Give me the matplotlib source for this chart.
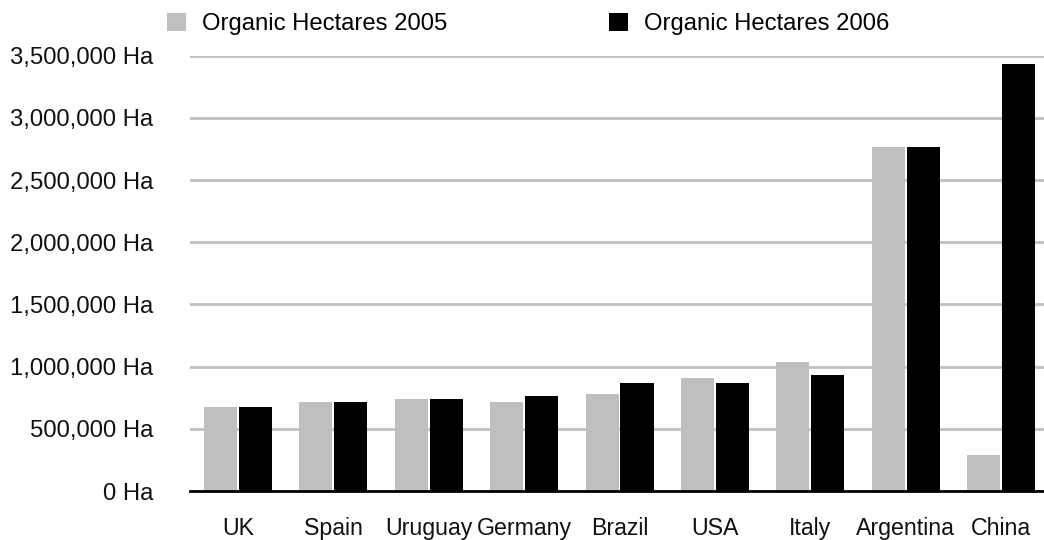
import matplotlib.pyplot as plt
import numpy as np
from matplotlib.ticker import FuncFormatter

plt.rcParams['font.family'] = ['Liberation Sans', 'DejaVu Sans']

countries = ['UK', 'Spain', 'Uruguay', 'Germany', 'Brazil', 'USA', 'Italy', 'Argentina', 'China']
ha_2005 = [673000, 713000, 737000, 713000, 777000, 905000, 1034000, 2765000, 288000]
ha_2006 = [673000, 713000, 737000, 761000, 865000, 865000, 930000, 2765000, 3430000]
yticks = [0, 500000, 1000000, 1500000, 2000000, 2500000, 3000000, 3500000]

fig = plt.figure(figsize=(10.44, 5.40), dpi=100)
ax = fig.add_axes([0.1823, 0.0907, 0.8177, 0.806])

x = np.arange(len(countries))
w = 0.346
off = 0.183
b1 = ax.bar(x - off, ha_2005, w, color='#bfbfbf', label='Organic Hectares 2005', zorder=2)
b2 = ax.bar(x + off, ha_2006, w, color='#000000', label='Organic Hectares 2006', zorder=2)

ax.set_xlim(-0.5, 8.45)
ax.set_ylim(0, 3500000)
ax.set_yticks(yticks)
ax.yaxis.set_major_formatter(FuncFormatter(lambda v, p: '{:,.0f} Ha'.format(v)))
ax.set_xticks(x)
ax.set_xticklabels(countries)

# light grey horizontal grid, black baseline
ax.grid(axis='y', color='#c0c0c0', linewidth=2, zorder=0)
ax.set_axisbelow(True)
for s in ['top', 'right', 'left']:
    ax.spines[s].set_visible(False)
ax.spines['bottom'].set_color('black')
ax.spines['bottom'].set_linewidth(2)
ax.spines['bottom'].set_zorder(3)
ax.tick_params(axis='y', length=0, pad=26.5, labelsize=17.2)
ax.tick_params(axis='x', length=0, pad=19, labelsize=16.7)
for lab in ax.get_yticklabels() + ax.get_xticklabels():
    lab.set_color('#111111')

leg = fig.legend(handles=[b1, b2], loc='center left', bbox_to_anchor=(0.16, 0.956),
                 ncol=2, frameon=False, fontsize=17.2, handlelength=0.8, handleheight=0.8,
                 handletextpad=0.67, columnspacing=6.75, borderaxespad=0, borderpad=0)

fig.savefig('out.png', dpi=100)
